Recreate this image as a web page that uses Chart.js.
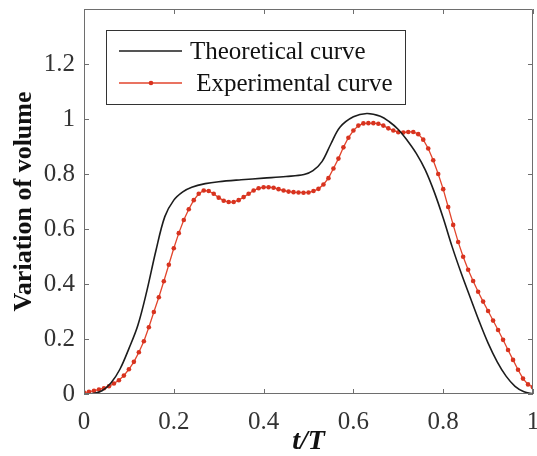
<!DOCTYPE html>
<html lang="en">
<head>
  <meta charset="UTF-8">
  <title>Variation of volume</title>
  <script src="https://cdn.jsdelivr.net/npm/chart.js"></script>
  <style>
    html, body { margin: 0; padding: 0; background: #fff; }
  </style>
</head>
<body>
  <canvas id="volChart" width="537" height="456"></canvas>

  <script>
    // series names (leading space is in the original legend)
    const seriesNames = ['Theoretical curve', ' Experimental curve'];

    // theoretical curve
    const theoT = [0, 0.02, 0.04, 0.06, 0.08, 0.10, 0.12, 0.14, 0.16, 0.18, 0.20, 0.22, 0.24, 0.27, 0.30,
                   0.35, 0.40, 0.45, 0.49, 0.51, 0.53, 0.55, 0.57, 0.60, 0.63, 0.66, 0.68, 0.70, 0.72,
                   0.74, 0.76, 0.78, 0.80, 0.82, 0.84, 0.86, 0.88, 0.90, 0.92, 0.94, 0.96, 0.98, 1.00];
    const theoV = [0, 0.002, 0.012, 0.04, 0.09, 0.165, 0.25, 0.375, 0.52, 0.645, 0.705, 0.735, 0.752, 0.765, 0.772,
                   0.779, 0.785, 0.791, 0.798, 0.812, 0.845, 0.91, 0.97, 1.008, 1.02, 1.01, 0.99, 0.962, 0.922,
                   0.875, 0.815, 0.735, 0.64, 0.535, 0.44, 0.352, 0.265, 0.185, 0.118, 0.065, 0.028, 0.008, 0];

    // experimental curve, one marker every 1/90 of t/T
    const expV = [0.005, 0.008, 0.012, 0.016, 0.021, 0.028, 0.038, 0.05, 0.067, 0.09,
                  0.117, 0.152, 0.192, 0.243, 0.298, 0.352, 0.41, 0.47, 0.53, 0.585,
                  0.633, 0.672, 0.705, 0.728, 0.74, 0.738, 0.728, 0.714, 0.703, 0.698,
                  0.698, 0.705, 0.716, 0.728, 0.74, 0.748, 0.752, 0.752, 0.75, 0.745,
                  0.74, 0.736, 0.734, 0.733, 0.732, 0.733, 0.738, 0.746, 0.762, 0.785,
                  0.82, 0.856, 0.897, 0.932, 0.958, 0.976, 0.984, 0.985, 0.985, 0.983,
                  0.976, 0.966, 0.958, 0.952, 0.951, 0.953, 0.953, 0.945, 0.925, 0.893,
                  0.85, 0.8, 0.745, 0.68, 0.615, 0.553, 0.499, 0.452, 0.411, 0.372,
                  0.336, 0.302, 0.267, 0.233, 0.197, 0.16, 0.124, 0.088, 0.056, 0.035, 0.025];
    const expStep = 90;

    const xTicks = [0, 0.2, 0.4, 0.6, 0.8, 1];
    const yTicks = [0, 0.2, 0.4, 0.6, 0.8, 1, 1.2];

    const serif = "'Liberation Serif', 'Times New Roman', serif";
    const frameColor = '#6e6e6e';
    const fmt = v => String(+v.toFixed(1));

    // box around the plot with inward ticks on all four sides
    const framePlugin = {
      id: 'frame',
      afterDatasetsDraw(chart) {
        const { ctx, chartArea: a, scales } = chart;
        const len = 5;
        ctx.save();
        ctx.strokeStyle = frameColor;
        ctx.lineWidth = 1;
        ctx.beginPath();
        ctx.rect(Math.round(a.left) + 0.5, Math.round(a.top) + 0.5,
                 Math.round(a.right - a.left) - 1, Math.round(a.bottom - a.top) - 1);
        xTicks.forEach(v => {
          const x = Math.round(scales.x.getPixelForValue(v)) + 0.5;
          ctx.moveTo(x, a.bottom); ctx.lineTo(x, a.bottom - len);
          ctx.moveTo(x, a.top); ctx.lineTo(x, a.top + len);
        });
        yTicks.forEach(v => {
          const y = Math.round(scales.y.getPixelForValue(v)) + 0.5;
          ctx.moveTo(a.left, y); ctx.lineTo(a.left + len, y);
          ctx.moveTo(a.right, y); ctx.lineTo(a.right - len, y);
        });
        ctx.stroke();
        ctx.restore();
      }
    };

    // MATLAB-style legend box in the upper left of the plot
    const legendPlugin = {
      id: 'boxLegend',
      afterDraw(chart) {
        const { ctx } = chart;
        const box = { x: 106, y: 30, w: 299, h: 74 };
        ctx.save();
        ctx.fillStyle = '#fff';
        ctx.fillRect(box.x, box.y, box.w, box.h);
        ctx.strokeStyle = '#333';
        ctx.lineWidth = 1;
        ctx.strokeRect(box.x + 0.5, box.y + 0.5, box.w, box.h);
        ctx.font = '25px ' + serif;
        ctx.textBaseline = 'middle';
        const rows = [51, 83];
        chart.data.datasets.forEach((ds, i) => {
          const y = rows[i];
          ctx.strokeStyle = ds.borderColor;
          ctx.lineWidth = ds.borderWidth;
          ctx.beginPath();
          ctx.moveTo(119, y); ctx.lineTo(182, y);
          ctx.stroke();
          if (ds.pointRadius > 0) {
            ctx.fillStyle = ds.pointBackgroundColor;
            ctx.beginPath();
            ctx.arc(151, y, ds.pointRadius, 0, Math.PI * 2);
            ctx.fill();
          }
          ctx.fillStyle = '#111';
          ctx.fillText(ds.label, 190, y + 1);
        });
        ctx.restore();
      }
    };

    // keep the plot box where the figure has it, labels may overhang
    function noOverhang(s) {
      s.paddingLeft = 0; s.paddingRight = 0;
      s.paddingTop = 0; s.paddingBottom = 0;
    }

    new Chart(document.getElementById('volChart'), {
      type: 'line',
      data: {
        datasets: [
          {
            label: seriesNames[0],
            data: theoT.map((t, i) => ({ x: t, y: theoV[i] })),
            borderColor: '#1c1c1c',
            borderWidth: 1.6,
            pointRadius: 0,
            tension: 0.35
          },
          {
            label: seriesNames[1],
            data: expV.map((v, i) => ({ x: i / expStep, y: v })),
            borderColor: '#e2452c',
            borderWidth: 1.3,
            pointRadius: 2.3,
            pointBorderWidth: 0,
            pointBackgroundColor: '#d8331f',
            tension: 0
          }
        ]
      },
      options: {
        responsive: false,
        animation: false,
        events: [],
        layout: { padding: { top: 9, right: 4, left: 0, bottom: 0 } },
        plugins: {
          legend: { display: false },
          tooltip: { enabled: false }
        },
        scales: {
          x: {
            type: 'linear',
            min: 0,
            max: 1,
            afterBuildTicks: s => { s.ticks = xTicks.map(v => ({ value: v })); },
            afterFit: s => { s.height = 62; noOverhang(s); },
            grid: { display: false, drawTicks: false },
            border: { display: false },
            ticks: {
              padding: 13,
              color: '#333',
              maxRotation: 0,
              callback: fmt,
              font: { family: serif, size: 25 }
            },
            title: {
              display: true,
              text: 't/T',
              color: '#111',
              padding: { top: 0, bottom: -3 },
              font: { family: serif, size: 28, weight: 'bold', style: 'italic' }
            }
          },
          y: {
            min: 0,
            max: 1.4,
            afterBuildTicks: s => { s.ticks = yTicks.map(v => ({ value: v })); },
            afterFit: s => { s.width = 84; noOverhang(s); },
            grid: { display: false, drawTicks: false },
            border: { display: false },
            ticks: {
              padding: 9,
              color: '#333',
              callback: fmt,
              font: { family: serif, size: 25 }
            },
            title: {
              display: true,
              text: 'Variation of volume',
              color: '#111',
              padding: { top: 9, bottom: 0 },
              font: { family: serif, size: 26, weight: 'bold' }
            }
          }
        }
      },
      plugins: [framePlugin, legendPlugin]
    });
  </script>
</body>
</html>
